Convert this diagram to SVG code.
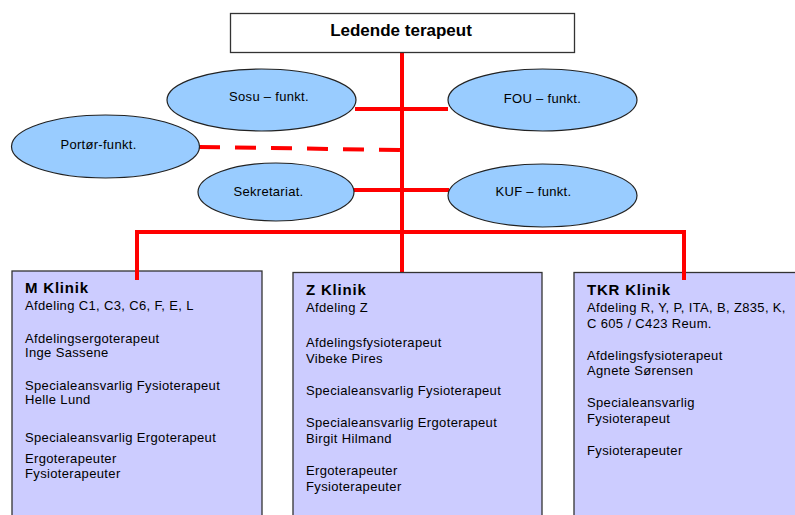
<svg xmlns="http://www.w3.org/2000/svg" width="795" height="515" viewBox="0 0 795 515">
<style>
  .t{font-family:"Liberation Sans",Arial,sans-serif;font-size:13px;letter-spacing:0.35px;fill:#000}
  .e{font-family:"Liberation Sans",Arial,sans-serif;font-size:13px;letter-spacing:0.3px;fill:#000;text-anchor:middle}
  .h{font-family:"Liberation Sans",Arial,sans-serif;font-size:15px;font-weight:bold;letter-spacing:0.8px;fill:#000}
  .ell{fill:#99CCFF;stroke:#222;stroke-width:1.2}
  .box{fill:#CCCCFF;stroke:#333;stroke-width:1.3}
  .con{stroke:#FF0000;stroke-width:4;fill:none}
</style>
<rect width="795" height="515" fill="#fff"/>
<g id="connectors">
  <line class="con" x1="402" y1="53" x2="402" y2="272"/>
  <line class="con" x1="355" y1="109" x2="448" y2="109"/>
  <line class="con" x1="354" y1="190" x2="449" y2="190"/>
  <line class="con" x1="199" y1="147" x2="402" y2="150" stroke-width="6" stroke-dasharray="21 15"/>
  <polyline class="con" points="137,280 137,232 684,232 684,280"/>
</g>
<g id="ledende">
  <rect x="230.5" y="13.5" width="344" height="39" fill="#fff" stroke="#333" stroke-width="1.3"/>
  <text x="401" y="36" font-family="Liberation Sans,Arial,sans-serif" font-size="17" font-weight="bold" text-anchor="middle">Ledende terapeut</text>
</g>
<g id="sosu">
  <ellipse class="ell" cx="261.5" cy="100" rx="94.5" ry="31"/>
  <text class="e" x="269" y="101">Sosu – funkt.</text>
</g>
<g id="fou">
  <ellipse class="ell" cx="542.5" cy="100" rx="94.5" ry="31"/>
  <text class="e" x="542.5" y="103">FOU – funkt.</text>
</g>
<g id="portor">
  <ellipse class="ell" cx="105.5" cy="146.5" rx="94" ry="31.5"/>
  <text class="e" x="98.5" y="149">Portør-funkt.</text>
</g>
<g id="sekretariat">
  <ellipse class="ell" cx="276" cy="192" rx="78" ry="29"/>
  <text class="e" x="268.5" y="196">Sekretariat.</text>
</g>
<g id="kuf">
  <ellipse class="ell" cx="542.5" cy="195.5" rx="94.5" ry="31.5"/>
  <text class="e" x="533.5" y="196">KUF – funkt.</text>
</g>
<g id="m-klinik">
  <rect class="box" x="12" y="271" width="250" height="260"/>
  <line class="con" x1="137" y1="262" x2="137" y2="280"/>
  <text class="h" x="25" y="293">M Klinik</text>
  <text class="t" x="25" y="310">Afdeling C1, C3, C6, F, E, L</text>
  <text class="t" x="25" y="343">Afdelingsergoterapeut</text>
  <text class="t" x="25" y="357">Inge Sassene</text>
  <text class="t" x="25" y="390">Specialeansvarlig Fysioterapeut</text>
  <text class="t" x="25" y="404">Helle Lund</text>
  <text class="t" x="25" y="442">Specialeansvarlig Ergoterapeut</text>
  <text class="t" x="25" y="463">Ergoterapeuter</text>
  <text class="t" x="25" y="478">Fysioterapeuter</text>
</g>
<g id="z-klinik">
  <rect class="box" x="293" y="272.5" width="249" height="260"/>
  <text class="h" x="306" y="295">Z Klinik</text>
  <text class="t" x="306" y="312">Afdeling Z</text>
  <text class="t" x="306" y="347">Afdelingsfysioterapeut</text>
  <text class="t" x="306" y="363">Vibeke Pires</text>
  <text class="t" x="306" y="395">Specialeansvarlig Fysioterapeut</text>
  <text class="t" x="306" y="427">Specialeansvarlig Ergoterapeut</text>
  <text class="t" x="306" y="443">Birgit Hilmand</text>
  <text class="t" x="306" y="475">Ergoterapeuter</text>
  <text class="t" x="306" y="491">Fysioterapeuter</text>
</g>
<g id="tkr-klinik">
  <rect class="box" x="574" y="272.5" width="250" height="260"/>
  <line class="con" x1="684" y1="262" x2="684" y2="280"/>
  <text class="h" x="587" y="295">TKR Klinik</text>
  <text class="t" x="587" y="312">Afdeling R, Y, P, ITA, B, Z835, K,</text>
  <text class="t" x="587" y="328">C 605 / C423 Reum.</text>
  <text class="t" x="587" y="360">Afdelingsfysioterapeut</text>
  <text class="t" x="587" y="375">Agnete Sørensen</text>
  <text class="t" x="587" y="407">Specialeansvarlig</text>
  <text class="t" x="587" y="423">Fysioterapeut</text>
  <text class="t" x="587" y="455">Fysioterapeuter</text>
</g>
</svg>
